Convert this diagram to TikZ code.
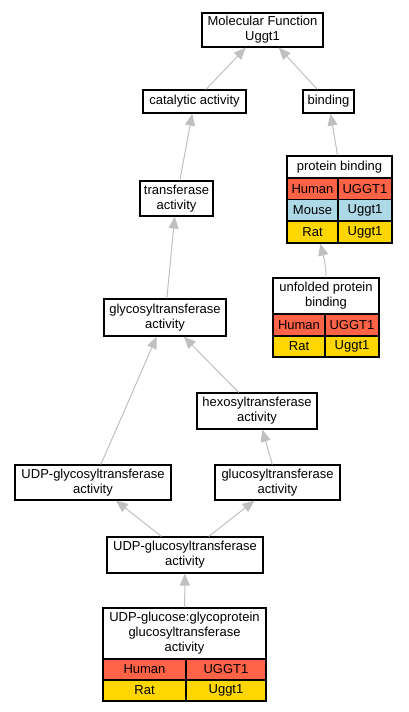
\documentclass[tikz,border=0pt]{standalone}
\usepackage{fontspec}
\setmainfont{Liberation Sans}
\usetikzlibrary{arrows.meta,calc}
\definecolor{human}{HTML}{FF6347}
\definecolor{mouse}{HTML}{ADD8E6}
\definecolor{rat}{HTML}{FFD700}
\definecolor{edgegray}{HTML}{C0C0C0}
\begin{document}
\begin{tikzpicture}[x=1pt,y=-1pt,
  box/.style={draw=black, line width=1.2pt, fill=white, inner sep=0pt, align=center,
    font=\fontsize{13}{15}\selectfont},
  hum/.style={box, fill=human},
  mou/.style={box, fill=mouse},
  ratc/.style={box, fill=rat},
  edge/.style={draw=edgegray, line width=1pt, -{Triangle[length=12pt,width=10pt,fill=edgegray]}}]
\useasboundingbox (0,0) rectangle (408,712);
% plain nodes
\node[box, minimum width=121pt, minimum height=34pt] (mf) at (262.5,30) {Molecular Function\\Uggt1};
\node[box, minimum width=103pt, minimum height=23pt] (cat) at (194.5,101.5) {catalytic activity};
\node[box, minimum width=51pt, minimum height=23pt] (bind) at (328.5,101.5) {binding};
\node[box, minimum width=73pt, minimum height=35pt] (trans) at (176.5,198.5) {transferase\\activity};
\node[box, minimum width=122pt, minimum height=37pt] (glyco) at (165,317.5) {glycosyltransferase\\activity};
\node[box, minimum width=120pt, minimum height=36pt] (hexo) at (257,411) {hexosyltransferase\\activity};
\node[box, minimum width=156pt, minimum height=35pt] (udpgly) at (93,482.5) {UDP-glycosyltransferase\\activity};
\node[box, minimum width=125pt, minimum height=35pt] (gluco) at (277.5,482.5) {glucosyltransferase\\activity};
\node[box, minimum width=156pt, minimum height=36pt] (udpglc) at (185,555) {UDP-glucosyltransferase\\activity};
% protein binding table
\node[box, minimum width=105pt, minimum height=22pt] (pb) at (339.5,167) {protein binding};
\node[hum, minimum width=51pt, minimum height=21.5pt] (pbhuml) at (312.5,189) {Human};
\node[hum, minimum width=54pt, minimum height=21.5pt] (pbhumr) at (365,189) {UGGT1};
\node[mou, minimum width=51pt, minimum height=22pt] (pbmoul) at (312.5,210.5) {Mouse};
\node[mou, minimum width=54pt, minimum height=22pt] (pbmour) at (365,210.5) {Uggt1};
\node[ratc, minimum width=51pt, minimum height=22pt] (pbratl) at (312.5,232) {Rat};
\node[ratc, minimum width=54pt, minimum height=22pt] (pbratr) at (365,232) {Uggt1};
% unfolded protein binding table
\node[box, minimum width=106pt, minimum height=36pt] (uf) at (326,296) {unfolded protein\\binding};
\node[hum, minimum width=52pt, minimum height=22pt] (ufhuml) at (299,325) {Human};
\node[hum, minimum width=54pt, minimum height=22pt] (ufhumr) at (352,325) {UGGT1};
\node[ratc, minimum width=52pt, minimum height=21pt] (ufratl) at (299,346.5) {Rat};
\node[ratc, minimum width=54pt, minimum height=21pt] (ufratr) at (352,346.5) {Uggt1};
% bottom table
\node[box, minimum width=163pt, minimum height=51pt] (bt) at (184.5,633.5) {UDP-glucose:glycoprotein\\glucosyltransferase\\activity};
\node[hum, minimum width=83pt, minimum height=21pt] (bthuml) at (144.5,669.5) {Human};
\node[hum, minimum width=80pt, minimum height=21pt] (bthumr) at (226,669.5) {UGGT1};
\node[ratc, minimum width=83pt, minimum height=21pt] (btratl) at (144.5,690.5) {Rat};
\node[ratc, minimum width=80pt, minimum height=21pt] (btratr) at (226,690.5) {Uggt1};
% edges
\draw[edge] (cat) -- (mf);
\draw[edge] (bind) -- (mf);
\draw[edge] (trans) -- (cat);
\draw[edge] (pb) -- (bind);
\draw[edge] (uf.north) .. controls +(0,-14) and +(3,12) .. ($(pbratl.south)!0.3!(pbratl.south east)$);
\draw[edge] (glyco) -- (trans);
\draw[edge] (hexo) -- (glyco);
\draw[edge] (udpgly) -- (glyco);
\draw[edge] (gluco) -- (hexo);
\draw[edge] (udpglc) -- (udpgly);
\draw[edge] (udpglc) -- (gluco);
\draw[edge] (bt) -- (udpglc);
\end{tikzpicture}
\end{document}
